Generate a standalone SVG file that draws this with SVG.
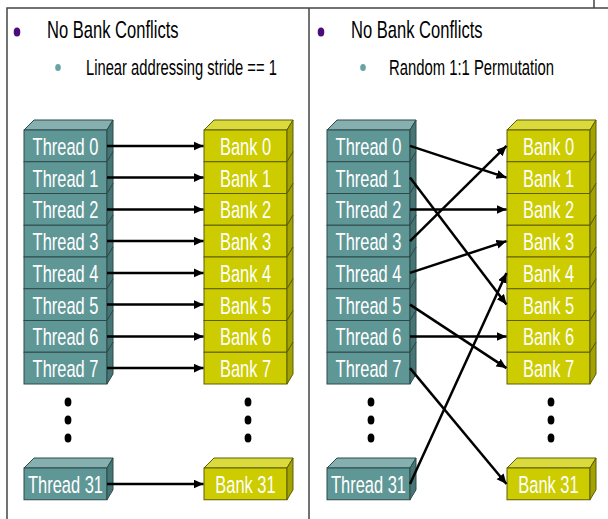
<svg xmlns="http://www.w3.org/2000/svg" xmlns:xlink="http://www.w3.org/1999/xlink" width="608" height="519" viewBox="0 0 608 519">
  <style>
    .frame { stroke: #444; stroke-width: 1.5; fill: none; }
    .head { font-family: "Liberation Sans", Arial, sans-serif; font-size: 24px; fill: #000; }
    .sub { font-family: "Liberation Sans", Arial, sans-serif; font-size: 22px; fill: #000; }
    .tf { fill: #5f9797; stroke: #2c4a4a; stroke-width: 1; }
    .tt { fill: #86afaf; stroke: #2c4a4a; stroke-width: 1; }
    .ts { fill: #467575; stroke: #2c4a4a; stroke-width: 1; }
    .bf { fill: #cccc00; stroke: #5e5e00; stroke-width: 1; }
    .bt { fill: #dada3c; stroke: #5e5e00; stroke-width: 1; }
    .bs { fill: #a2a200; stroke: #5e5e00; stroke-width: 1; }
    .lbl { font-family: "Liberation Sans", Arial, sans-serif; font-size: 23.5px; fill: #fff; text-anchor: middle; }
    .dot { fill: #000; }
    .arrow { stroke: #000; stroke-width: 2.5; fill: none; marker-end: url(#ah); }
  </style>
  <defs>
    <marker id="ah" markerUnits="userSpaceOnUse" markerWidth="11" markerHeight="10" refX="10" refY="4.5" orient="auto">
      <path d="M0,0 L10,4.5 L0,9 z" fill="#000"/>
    </marker>
    <!-- one row of a stack: front face plus its slice of the side face -->
    <g id="trow"><rect class="tf" width="83" height="31.75"/><polygon class="ts" points="83,0 89,-10 89,21.75 83,31.75"/></g>
    <g id="brow"><rect class="bf" width="83" height="31.75"/><polygon class="bs" points="83,0 89,-10 89,21.75 83,31.75"/></g>
    <polygon id="ttop" class="tt" points="0,0 10,-10 89,-10 83,0"/>
    <polygon id="btop" class="bt" points="0,0 10,-10 89,-10 83,0"/>
    <g id="tdots"><ellipse class="dot" cx="0" cy="0" rx="3.4" ry="4.5"/><ellipse class="dot" cx="0" cy="18" rx="3.4" ry="4.5"/><ellipse class="dot" cx="0" cy="36" rx="3.4" ry="4.5"/></g>
  </defs>

  <!-- slide frame -->
  <path class="frame" d="M7,519 V8 H608 M309,8 V519 M594,0 V8"/>

  <!-- headings (condensed type) -->
  <g id="heading-left">
    <ellipse cx="17" cy="32" rx="3.3" ry="4.5" fill="#4b0b7a"/>
    <text class="head" transform="translate(47,38) scale(0.69,1)">No Bank Conflicts</text>
    <ellipse cx="58" cy="67.5" rx="2.8" ry="3.6" fill="#6aa3a3"/>
    <text class="sub" transform="translate(86,74.5) scale(0.67,1)">Linear addressing stride == 1</text>
  </g>
  <g id="heading-right">
    <ellipse cx="321" cy="32" rx="3.3" ry="4.5" fill="#4b0b7a"/>
    <text class="head" transform="translate(351,38) scale(0.69,1)">No Bank Conflicts</text>
    <ellipse cx="363" cy="67.5" rx="2.8" ry="3.6" fill="#6aa3a3"/>
    <text class="sub" transform="translate(389,74.5) scale(0.675,1)">Random 1:1 Permutation</text>
  </g>

  <!-- left panel: threads -->
  <g id="left-threads">
    <use href="#ttop" x="24" y="130"/>
    <g id="l-thread-0" transform="translate(24,130)"><use href="#trow"/><text class="lbl" transform="translate(41.5,24.8) scale(0.7,1)">Thread 0</text></g>
    <g id="l-thread-1" transform="translate(24,161.75)"><use href="#trow"/><text class="lbl" transform="translate(41.5,24.8) scale(0.7,1)">Thread 1</text></g>
    <g id="l-thread-2" transform="translate(24,193.5)"><use href="#trow"/><text class="lbl" transform="translate(41.5,24.8) scale(0.7,1)">Thread 2</text></g>
    <g id="l-thread-3" transform="translate(24,225.25)"><use href="#trow"/><text class="lbl" transform="translate(41.5,24.8) scale(0.7,1)">Thread 3</text></g>
    <g id="l-thread-4" transform="translate(24,257)"><use href="#trow"/><text class="lbl" transform="translate(41.5,24.8) scale(0.7,1)">Thread 4</text></g>
    <g id="l-thread-5" transform="translate(24,288.75)"><use href="#trow"/><text class="lbl" transform="translate(41.5,24.8) scale(0.7,1)">Thread 5</text></g>
    <g id="l-thread-6" transform="translate(24,320.5)"><use href="#trow"/><text class="lbl" transform="translate(41.5,24.8) scale(0.7,1)">Thread 6</text></g>
    <g id="l-thread-7" transform="translate(24,352.25)"><use href="#trow"/><text class="lbl" transform="translate(41.5,24.8) scale(0.7,1)">Thread 7</text></g>
    <use href="#tdots" x="68" y="402"/>
    <g id="l-thread-31" transform="translate(24,468)"><use href="#ttop"/><use href="#trow"/><text class="lbl" transform="translate(41.5,24.8) scale(0.7,1)">Thread 31</text></g>
  </g>

  <!-- left panel: banks -->
  <g id="left-banks">
    <use href="#btop" x="204" y="130"/>
    <g id="l-bank-0" transform="translate(204,130)"><use href="#brow"/><text class="lbl" transform="translate(41.5,24.8) scale(0.7,1)">Bank 0</text></g>
    <g id="l-bank-1" transform="translate(204,161.75)"><use href="#brow"/><text class="lbl" transform="translate(41.5,24.8) scale(0.7,1)">Bank 1</text></g>
    <g id="l-bank-2" transform="translate(204,193.5)"><use href="#brow"/><text class="lbl" transform="translate(41.5,24.8) scale(0.7,1)">Bank 2</text></g>
    <g id="l-bank-3" transform="translate(204,225.25)"><use href="#brow"/><text class="lbl" transform="translate(41.5,24.8) scale(0.7,1)">Bank 3</text></g>
    <g id="l-bank-4" transform="translate(204,257)"><use href="#brow"/><text class="lbl" transform="translate(41.5,24.8) scale(0.7,1)">Bank 4</text></g>
    <g id="l-bank-5" transform="translate(204,288.75)"><use href="#brow"/><text class="lbl" transform="translate(41.5,24.8) scale(0.7,1)">Bank 5</text></g>
    <g id="l-bank-6" transform="translate(204,320.5)"><use href="#brow"/><text class="lbl" transform="translate(41.5,24.8) scale(0.7,1)">Bank 6</text></g>
    <g id="l-bank-7" transform="translate(204,352.25)"><use href="#brow"/><text class="lbl" transform="translate(41.5,24.8) scale(0.7,1)">Bank 7</text></g>
    <use href="#tdots" x="248" y="402"/>
    <g id="l-bank-31" transform="translate(204,468)"><use href="#btop"/><use href="#brow"/><text class="lbl" transform="translate(41.5,24.8) scale(0.7,1)">Bank 31</text></g>
  </g>

  <!-- right panel: threads -->
  <g id="right-threads">
    <use href="#ttop" x="327" y="130"/>
    <g id="r-thread-0" transform="translate(327,130)"><use href="#trow"/><text class="lbl" transform="translate(41.5,24.8) scale(0.7,1)">Thread 0</text></g>
    <g id="r-thread-1" transform="translate(327,161.75)"><use href="#trow"/><text class="lbl" transform="translate(41.5,24.8) scale(0.7,1)">Thread 1</text></g>
    <g id="r-thread-2" transform="translate(327,193.5)"><use href="#trow"/><text class="lbl" transform="translate(41.5,24.8) scale(0.7,1)">Thread 2</text></g>
    <g id="r-thread-3" transform="translate(327,225.25)"><use href="#trow"/><text class="lbl" transform="translate(41.5,24.8) scale(0.7,1)">Thread 3</text></g>
    <g id="r-thread-4" transform="translate(327,257)"><use href="#trow"/><text class="lbl" transform="translate(41.5,24.8) scale(0.7,1)">Thread 4</text></g>
    <g id="r-thread-5" transform="translate(327,288.75)"><use href="#trow"/><text class="lbl" transform="translate(41.5,24.8) scale(0.7,1)">Thread 5</text></g>
    <g id="r-thread-6" transform="translate(327,320.5)"><use href="#trow"/><text class="lbl" transform="translate(41.5,24.8) scale(0.7,1)">Thread 6</text></g>
    <g id="r-thread-7" transform="translate(327,352.25)"><use href="#trow"/><text class="lbl" transform="translate(41.5,24.8) scale(0.7,1)">Thread 7</text></g>
    <use href="#tdots" x="371" y="402"/>
    <g id="r-thread-31" transform="translate(327,468)"><use href="#ttop"/><use href="#trow"/><text class="lbl" transform="translate(41.5,24.8) scale(0.7,1)">Thread 31</text></g>
  </g>

  <!-- right panel: banks -->
  <g id="right-banks">
    <use href="#btop" x="507" y="130"/>
    <g id="r-bank-0" transform="translate(507,130)"><use href="#brow"/><text class="lbl" transform="translate(41.5,24.8) scale(0.7,1)">Bank 0</text></g>
    <g id="r-bank-1" transform="translate(507,161.75)"><use href="#brow"/><text class="lbl" transform="translate(41.5,24.8) scale(0.7,1)">Bank 1</text></g>
    <g id="r-bank-2" transform="translate(507,193.5)"><use href="#brow"/><text class="lbl" transform="translate(41.5,24.8) scale(0.7,1)">Bank 2</text></g>
    <g id="r-bank-3" transform="translate(507,225.25)"><use href="#brow"/><text class="lbl" transform="translate(41.5,24.8) scale(0.7,1)">Bank 3</text></g>
    <g id="r-bank-4" transform="translate(507,257)"><use href="#brow"/><text class="lbl" transform="translate(41.5,24.8) scale(0.7,1)">Bank 4</text></g>
    <g id="r-bank-5" transform="translate(507,288.75)"><use href="#brow"/><text class="lbl" transform="translate(41.5,24.8) scale(0.7,1)">Bank 5</text></g>
    <g id="r-bank-6" transform="translate(507,320.5)"><use href="#brow"/><text class="lbl" transform="translate(41.5,24.8) scale(0.7,1)">Bank 6</text></g>
    <g id="r-bank-7" transform="translate(507,352.25)"><use href="#brow"/><text class="lbl" transform="translate(41.5,24.8) scale(0.7,1)">Bank 7</text></g>
    <use href="#tdots" x="551" y="402"/>
    <g id="r-bank-31" transform="translate(507,468)"><use href="#btop"/><use href="#brow"/><text class="lbl" transform="translate(41.5,24.8) scale(0.7,1)">Bank 31</text></g>
  </g>

  <!-- thread-to-bank connectors -->
  <g id="connectors">
    <!-- linear: thread i to bank i -->
    <line class="arrow" x1="107" y1="145.9" x2="203.5" y2="145.9"/>
    <line class="arrow" x1="107" y1="177.6" x2="203.5" y2="177.6"/>
    <line class="arrow" x1="107" y1="209.4" x2="203.5" y2="209.4"/>
    <line class="arrow" x1="107" y1="241.1" x2="203.5" y2="241.1"/>
    <line class="arrow" x1="107" y1="272.9" x2="203.5" y2="272.9"/>
    <line class="arrow" x1="107" y1="304.6" x2="203.5" y2="304.6"/>
    <line class="arrow" x1="107" y1="336.4" x2="203.5" y2="336.4"/>
    <line class="arrow" x1="107" y1="368.1" x2="203.5" y2="368.1"/>
    <line class="arrow" x1="107" y1="484" x2="203.5" y2="484"/>
    <!-- permutation -->
    <line class="arrow" x1="410" y1="145.9" x2="506.5" y2="177.6"/>
    <line class="arrow" x1="410" y1="177.6" x2="506.5" y2="304.6"/>
    <line class="arrow" x1="410" y1="209.4" x2="506.5" y2="209.4"/>
    <line class="arrow" x1="410" y1="241.1" x2="506.5" y2="145.9"/>
    <line class="arrow" x1="410" y1="272.9" x2="506.5" y2="241.1"/>
    <line class="arrow" x1="410" y1="304.6" x2="506.5" y2="368.1"/>
    <line class="arrow" x1="410" y1="336.4" x2="506.5" y2="336.4"/>
    <line class="arrow" x1="410" y1="368.1" x2="506.5" y2="484"/>
    <line class="arrow" x1="410" y1="484" x2="506.5" y2="272.9"/>
  </g>
</svg>
